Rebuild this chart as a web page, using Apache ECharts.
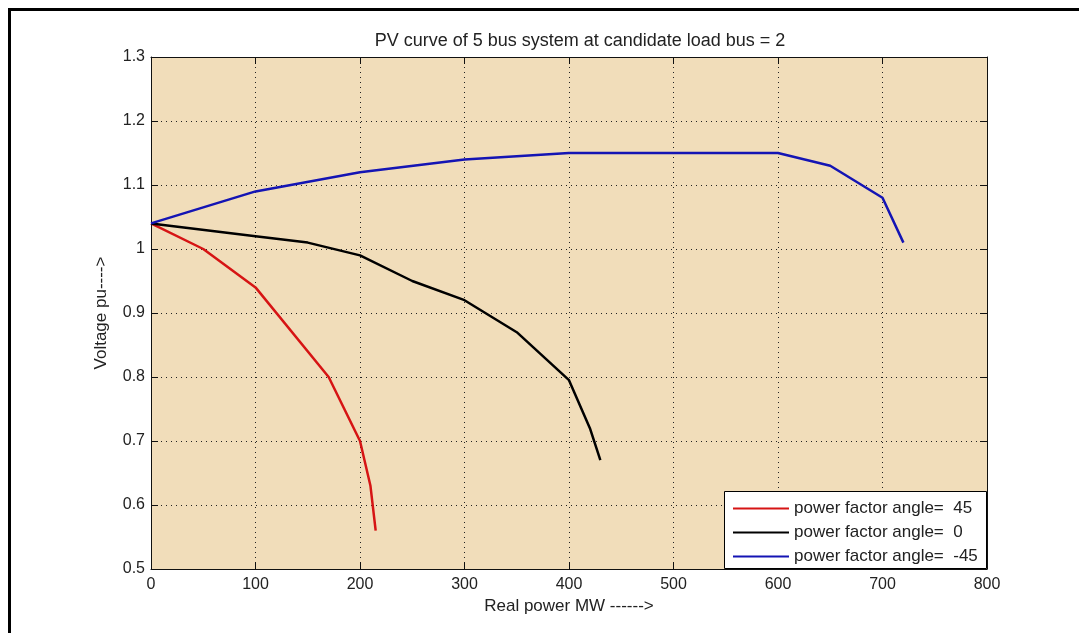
<!DOCTYPE html>
<html>
<head>
<meta charset="utf-8">
<script src="https://cdn.jsdelivr.net/npm/echarts@6/dist/echarts.min.js"></script>
<style>
html,body{margin:0;padding:0;background:#fff;}
#c{width:1079px;height:633px;}
</style>
</head>
<body>
<div id="c"></div>
<script>
var titleText = 'PV curve of 5 bus system at candidate load bus = 2';
var xName = 'Real power MW ------>';
var yName = 'Voltage pu---->';
var xTicks = [0, 100, 200, 300, 400, 500, 600, 700, 800];
var yTicks = [0.5, 0.6, 0.7, 0.8, 0.9, 1.0, 1.1, 1.2, 1.3];
var seriesNames = ['power factor angle=  45', 'power factor angle=  0', 'power factor angle=  -45'];
var pf45 = [[0,1.04],[50,1.0],[100,0.94],[170,0.80],[200,0.70],[210,0.63],[215,0.56]];
var pf0 = [[0,1.04],[100,1.02],[150,1.01],[200,0.99],[250,0.95],[300,0.92],[350,0.87],[400,0.795],[420,0.72],[430,0.67]];
var pfm45 = [[0,1.04],[100,1.09],[200,1.12],[300,1.14],[400,1.15],[500,1.15],[600,1.15],[650,1.13],[700,1.08],[720,1.01]];

var FONT = "'Liberation Sans', Arial, sans-serif";
var chart = echarts.init(document.getElementById('c'), null, {renderer: 'canvas'});
var xMin = xTicks[0], xMax = xTicks[xTicks.length-1], xInt = xTicks[1]-xTicks[0];
var yMin = yTicks[0], yMax = yTicks[yTicks.length-1], yInt = +(yTicks[1]-yTicks[0]).toFixed(2);

function xAx(pos, show) {
  return {
    type: 'value', position: pos, min: xMin, max: xMax, interval: xInt,
    name: show ? xName : '', nameLocation: 'middle', nameGap: 29,
    nameTextStyle: {fontFamily: FONT, fontSize: 17, color: '#222'},
    axisLine: {show: true, onZero: false, lineStyle: {color: '#111', width: 1}},
    axisTick: {show: true, inside: true, length: 7, lineStyle: {color: '#111'}},
    axisLabel: {show: show, fontFamily: FONT, fontSize: 16, color: '#222', margin: 8},
    splitLine: {show: show, lineStyle: {color: '#222', type: [1, 4], width: 1}}
  };
}
function yAx(pos, show) {
  return {
    type: 'value', position: pos, min: yMin, max: yMax, interval: yInt,
    name: show ? yName : '', nameLocation: 'middle', nameGap: 41, nameRotate: 90,
    nameTextStyle: {fontFamily: FONT, fontSize: 17, color: '#222'},
    axisLine: {show: true, onZero: false, lineStyle: {color: '#111', width: 1}},
    axisTick: {show: true, inside: true, length: 7, lineStyle: {color: '#111'}},
    axisLabel: {show: show, fontFamily: FONT, fontSize: 16, color: '#222', margin: 6,
      formatter: function(v){ return String(+v.toFixed(2)); }},
    splitLine: {show: show, lineStyle: {color: '#222', type: [1, 4], width: 1}}
  };
}

var colors = ['#d61414', '#000000', '#1414b4'];
var datas = [pf45, pf0, pfm45];
var series = seriesNames.map(function(n, i){
  return {
    name: n, type: 'line', data: datas[i], symbol: 'none', smooth: false,
    xAxisIndex: 0, yAxisIndex: 0,
    lineStyle: {color: colors[i], width: 2.5}, itemStyle: {color: colors[i]},
    z: 3, animation: false
  };
});

chart.setOption({
  animation: false,
  backgroundColor: '#ffffff',
  title: {
    text: titleText, left: 575, top: 27, textAlign: 'center',
    textStyle: {fontFamily: FONT, fontSize: 18, fontWeight: 'normal', color: '#222'}
  },
  grid: {left: 151, top: 57, right: 92, bottom: 64, show: true,
    backgroundColor: '#f1ddba', borderWidth: 0},
  xAxis: [xAx('bottom', true), xAx('top', false)],
  yAxis: [yAx('left', true), yAx('right', false)],
  legend: {
    orient: 'vertical', left: 733, top: 500,
    itemWidth: 56, itemHeight: 14, itemGap: 7, padding: 0,
    data: seriesNames.map(function(n, i){
      return {name: n, icon: 'path://M0,6L56,6L56,8L0,8Z', itemStyle: {color: colors[i]}};
    }),
    textStyle: {fontFamily: FONT, fontSize: 17, lineHeight: 17, color: '#222'},
    z: 10
  },
  graphic: [
    {type: 'rect', z: 8, shape: {x: 724.5, y: 491.5, width: 262, height: 77},
      style: {fill: '#ffffff', stroke: '#000', lineWidth: 1}},
    {type: 'rect', z: 9, shape: {x: 9.5, y: 9.5, width: 1100, height: 700},
      style: {fill: 'none', stroke: '#000', lineWidth: 3}}
  ],
  series: series
});
</script>
</body>
</html>
